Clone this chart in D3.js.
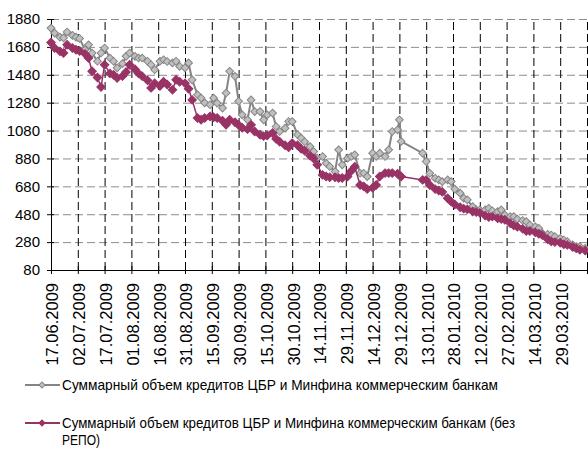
<!DOCTYPE html>
<html>
<head>
<meta charset="utf-8">
<script src="https://cdn.jsdelivr.net/npm/d3@7"></script>
<style>
  body { margin: 0; background: #fff; }
  text { font-family: "Liberation Sans", Arial, sans-serif; }
</style>
</head>
<body>
<div id="chart"></div>
<script>
// data (3 points a week)
var dates = [
  "17.06.2009","19.06.2009","22.06.2009","24.06.2009","26.06.2009","29.06.2009",
  "01.07.2009","03.07.2009","06.07.2009","08.07.2009","10.07.2009","13.07.2009","15.07.2009","17.07.2009","20.07.2009","22.07.2009","24.07.2009","27.07.2009","29.07.2009","31.07.2009",
  "03.08.2009","05.08.2009","07.08.2009","10.08.2009","12.08.2009","14.08.2009","17.08.2009","19.08.2009","21.08.2009","24.08.2009","26.08.2009","28.08.2009","31.08.2009",
  "02.09.2009","04.09.2009","07.09.2009","09.09.2009","11.09.2009","14.09.2009","16.09.2009","18.09.2009","21.09.2009","23.09.2009","25.09.2009","28.09.2009","30.09.2009",
  "02.10.2009","05.10.2009","07.10.2009","09.10.2009","12.10.2009","14.10.2009","16.10.2009","19.10.2009","21.10.2009","23.10.2009","26.10.2009","28.10.2009","30.10.2009",
  "02.11.2009","04.11.2009","06.11.2009","09.11.2009","11.11.2009","13.11.2009","16.11.2009","18.11.2009","20.11.2009","23.11.2009","25.11.2009","27.11.2009","30.11.2009",
  "02.12.2009","04.12.2009","07.12.2009","09.12.2009","11.12.2009","14.12.2009","16.12.2009","18.12.2009","21.12.2009","23.12.2009","25.12.2009","28.12.2009","29.12.2009","30.12.2009",
  "11.01.2010","13.01.2010","15.01.2010","18.01.2010","20.01.2010","22.01.2010","25.01.2010","27.01.2010","29.01.2010",
  "01.02.2010","03.02.2010","05.02.2010","08.02.2010","10.02.2010","12.02.2010","15.02.2010","17.02.2010","19.02.2010","22.02.2010","24.02.2010","26.02.2010",
  "01.03.2010","03.03.2010","05.03.2010","08.03.2010","10.03.2010","12.03.2010","15.03.2010","17.03.2010","19.03.2010","22.03.2010","24.03.2010","26.03.2010","29.03.2010","31.03.2010",
  "02.04.2010","05.04.2010","07.04.2010","09.04.2010","12.04.2010"
];

var totalCredit = [
  1815,1779,1750,1745,1787,1762,
  1750,1740,1660,1695,1636,1577,1636,1672,1600,1577,1530,1560,1612,1636,
  1612,1600,1600,1577,1552,1516,1577,1588,1575,1565,1577,1540,1530,
  1565,1444,1337,1313,1279,1265,1313,1277,1241,1349,1505,1469,1290,
  1193,1157,1300,1216,1216,1157,1193,1205,1109,1073,1097,1145,1145,
  1050,1026,1000,965,930,882,894,846,822,786,942,834,882,
  894,906,774,774,750,918,894,918,894,942,1073,1085,1157,1002,
  918,858,774,738,726,714,726,714,660,
  631,595,583,535,511,511,511,523,505,499,511,475,
  463,463,445,435,427,403,391,379,343,335,331,319,307,295,
  283,260,248,248,236
];

var creditNoRepo = [
  1712,1672,1648,1636,1695,1672,
  1660,1650,1630,1600,1505,1460,1392,1552,1490,1480,1457,1470,1500,1552,
  1520,1490,1470,1440,1386,1420,1400,1430,1410,1372,1444,1430,1420,
  1380,1300,1170,1157,1170,1181,1175,1170,1150,1121,1157,1140,1120,
  1100,1090,1121,1073,1050,1040,1045,1062,1020,1000,975,960,990,
  975,950,935,900,880,834,762,750,745,745,740,740,750,
  790,820,690,680,660,670,690,750,775,775,775,770,760,750,
  726,726,690,660,650,640,595,570,550,
  530,520,515,500,495,490,470,460,463,450,445,440,
  415,400,390,375,360,360,350,340,330,300,285,280,275,265,
  260,245,235,225,220
];

var yTicks = [80, 280, 480, 680, 880, 1080, 1280, 1480, 1680, 1880];

var tickDates = [
  "17.06.2009","02.07.2009","17.07.2009","01.08.2009","16.08.2009","31.08.2009","15.09.2009",
  "30.09.2009","15.10.2009","30.10.2009","14.11.2009","29.11.2009","14.12.2009","29.12.2009",
  "13.01.2010","28.01.2010","12.02.2010","27.02.2010","14.03.2010","29.03.2010","13.04.2010"
];

var seriesNames = [
  "Суммарный объем кредитов  ЦБР и Минфина коммерческим банкам",
  "Суммарный объем кредитов  ЦБР и Минфина коммерческим банкам (без",
  "РЕПО)"
];

var svgWidth = 588;
var svgHeight = 452;

var margin = { top: 19, right: 1, bottom: 182, left: 51 };
var width = svgWidth - margin.left - margin.right;
var height = svgHeight - margin.top - margin.bottom;

var parseDate = d3.timeParse("%d.%m.%Y");
var fmtDate = d3.timeFormat("%d.%m.%Y");

var svg = d3.select("#chart")
  .append("svg")
  .attr("width", svgWidth)
  .attr("height", svgHeight);

var chartGroup = svg.append("g")
  .attr("transform", `translate(${margin.left}, ${margin.top})`);

var xTime = d3.scaleTime()
  .domain([parseDate(tickDates[0]), parseDate(tickDates[tickDates.length - 1])])
  .range([0, width]);

var yLinearScale = d3.scaleLinear()
  .domain([80, 1880])
  .range([height, 0]);

var tickValues = tickDates.map(d => parseDate(d));

// gridlines, drawn as tickless axes
var hGrid = chartGroup.append("g")
  .call(d3.axisLeft(yLinearScale).tickValues(yTicks.slice(1)).tickSize(-(width + 1)).tickFormat(""));
hGrid.select(".domain").remove();
hGrid.selectAll(".tick line")
  .attr("stroke", "#8c8c8c")
  .attr("stroke-dasharray", "8 4");

var vGrid = chartGroup.append("g")
  .attr("transform", `translate(0, ${height})`)
  .call(d3.axisBottom(xTime).tickValues(tickValues.slice(1)).tickSize(-height).tickFormat(""));
vGrid.select(".domain").remove();
vGrid.selectAll(".tick line")
  .attr("stroke", "#000")
  .attr("stroke-dasharray", "8 4");

// axes
var leftAxis = d3.axisLeft(yLinearScale)
  .tickValues(yTicks)
  .tickFormat(d3.format("d"))
  .tickSize(4)
  .tickPadding(7);
var yAxis = chartGroup.append("g").call(leftAxis);
yAxis.select(".domain").attr("d", `M0.5,0V${height}`);
yAxis.selectAll(".tick line").attr("x1", 3);
yAxis.selectAll("text")
  .style("font-size", "15px")
  .style("fill", "#000");

var bottomAxis = d3.axisBottom(xTime)
  .tickValues(tickValues)
  .tickSize(4)
  .tickFormat((d, i) => i < tickValues.length - 1 ? fmtDate(d) : "");
var xAxis = chartGroup.append("g")
  .attr("transform", `translate(0, ${height})`)
  .call(bottomAxis);
xAxis.select(".domain").attr("d", `M0,0.5H${width + 1}`);
xAxis.selectAll(".tick line").attr("y1", -4);
xAxis.selectAll("text")
  .attr("x", 0)
  .attr("y", 0)
  .attr("dy", "0.36em")
  .attr("transform", "translate(1,13) rotate(-90)")
  .style("text-anchor", "end")
  .style("font-size", "16.5px")
  .style("fill", "#000");

xAxis.selectAll(".domain, .tick line").attr("stroke", "#000");
yAxis.selectAll(".domain, .tick line").attr("stroke", "#000");

// series
var rows = dates.map((d, i) => ({ date: parseDate(d), total: totalCredit[i], norepo: creditNoRepo[i] }));

var diamond = d3.symbol().type(d3.symbolSquare);

function drawSeries(key, lineColor, lineWidth, fill, markerSize) {
  var line = d3.line()
    .x(d => xTime(d.date))
    .y(d => yLinearScale(d[key]));

  chartGroup.append("path")
    .datum(rows)
    .attr("d", line)
    .style("fill", "none")
    .style("stroke", lineColor)
    .style("stroke-width", lineWidth);

  chartGroup.append("g")
    .selectAll("path")
    .data(rows)
    .enter()
    .append("path")
    .attr("d", diamond.size(markerSize))
    .attr("transform", d => `translate(${xTime(d.date)}, ${yLinearScale(d[key])}) rotate(45)`)
    .style("fill", fill)
    .style("stroke", lineColor)
    .style("stroke-width", 1);
}

drawSeries("total", "#858585", 2, "#c0c0c0", 30);
drawSeries("norepo", "#993366", 1.5, "#993366", 36);

// legend
var legend = svg.append("g");
var legendItems = [
  { y: 385, color: "#858585", fill: "#c0c0c0", lines: [[seriesNames[0], 436]] },
  { y: 423, color: "#993366", fill: "#993366", lines: [[seriesNames[1], 453], [seriesNames[2], 38]] }
];

legendItems.forEach(function(item) {
  legend.append("line")
    .attr("x1", 25).attr("x2", 60)
    .attr("y1", item.y).attr("y2", item.y)
    .style("stroke", item.color)
    .style("stroke-width", 2);
  legend.append("path")
    .attr("d", diamond.size(18))
    .attr("transform", `translate(42, ${item.y}) rotate(45)`)
    .style("fill", item.fill)
    .style("stroke", item.color);
  item.lines.forEach(function(t, j) {
    legend.append("text")
      .attr("x", 62)
      .attr("y", item.y + j * 17)
      .attr("dy", "0.35em")
      .attr("textLength", t[1])
      .attr("lengthAdjust", "spacingAndGlyphs")
      .style("font-size", "15px")
      .style("fill", "#000")
      .text(t[0]);
  });
});
</script>
</body>
</html>
